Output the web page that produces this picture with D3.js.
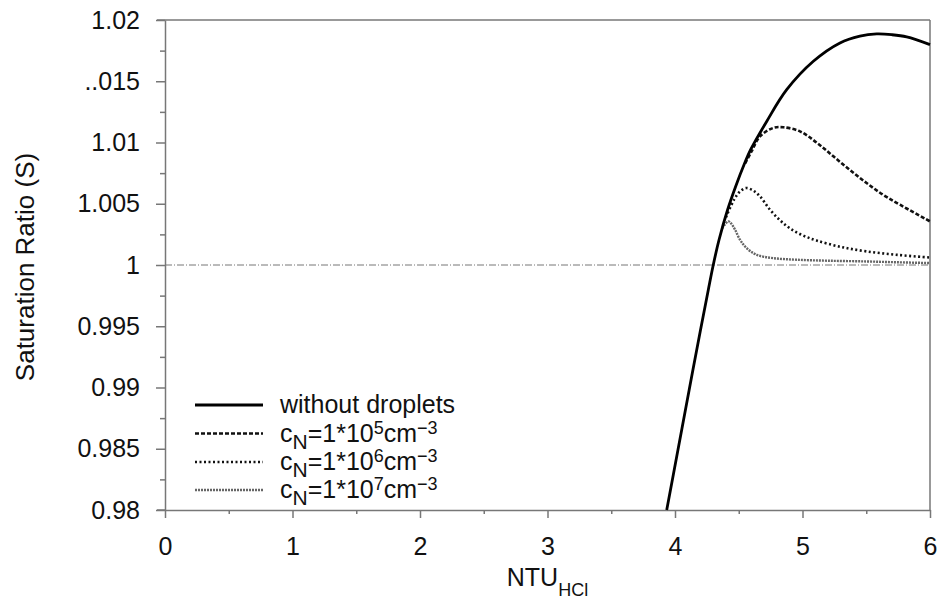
<!DOCTYPE html>
<meta charset="utf-8">
<style>
body { margin: 0; background: #fff; }
text { font-family: "Liberation Sans", Arial, sans-serif; fill: #111; }
</style>
<script src="https://d3js.org/d3.v7.min.js"></script>
<div id="chart"></div>
<script>
// data (NTU_HCI vs saturation ratio)
var ntuSolid = [3.935, 4.023, 4.111, 4.2, 4.261, 4.30, 4.345, 4.412, 4.475, 4.546, 4.592, 4.719, 4.876, 5.085, 5.294, 5.45, 5.582, 5.7, 5.817, 6.0];
var sSolid   = [0.98, 0.9849, 0.9898, 0.99469, 0.99796, 1.0, 1.00204, 1.00449, 1.00639, 1.0083, 1.00939, 1.01172, 1.01431, 1.01663, 1.01813, 1.01868, 1.01886, 1.0188, 1.01862, 1.01799];

var ntu1e5 = [4.55, 4.60, 4.667, 4.771, 4.85, 4.98, 5.11, 5.242, 5.373, 5.503, 5.634, 5.765, 6.0];
var s1e5   = [1.0083, 1.00927, 1.0105, 1.01119, 1.01124, 1.01091, 1.0100, 1.00887, 1.00775, 1.00669, 1.00572, 1.00492, 1.00356];

var ntu1e6 = [4.40, 4.463, 4.51, 4.557, 4.61, 4.667, 4.745, 4.824, 4.90, 5.0, 5.11, 5.30, 5.503, 5.75, 6.0];
var s1e6   = [1.0039, 1.00533, 1.0060, 1.00628, 1.0061, 1.0056, 1.00451, 1.00365, 1.00300, 1.00243, 1.00200, 1.00148, 1.00111, 1.00082, 1.00061];

var ntu1e7 = [4.37, 4.418, 4.44, 4.471, 4.51, 4.562, 4.641, 4.771, 4.954, 5.2, 5.503, 5.75, 6.0];
var s1e7   = [1.0030, 1.00356, 1.0034, 1.00288, 1.00206, 1.00138, 1.00083, 1.00056, 1.00043, 1.00035, 1.00029, 1.00022, 1.00016];

var yTicks = [0.98, 0.985, 0.99, 0.995, 1, 1.005, 1.01, 1.015, 1.02];
var yTickLabels = ["0.98", "0.985", "0.99", "0.995", "1", "1.005", "1.01", "..015", "1.02"];
var xTicks = [0, 1, 2, 3, 4, 5, 6];

var W = 940, H = 602;
var margin = {top: 20, right: 10, bottom: 92, left: 165};
var width = 930 - margin.left, height = 510 - margin.top;

var svg = d3.select("#chart").append("svg")
    .attr("width", W).attr("height", H)
  .append("g")
    .attr("transform", "translate(" + margin.left + "," + margin.top + ")");

var x = d3.scaleLinear().domain([0, 6]).range([0, width]);
var y = d3.scaleLinear().domain([0.98, 1.02]).range([height, 0]);

var axisColor = "#777";

// frame: top and right edges
svg.append("line").attr("x1", -8).attr("x2", width).attr("y1", 0).attr("y2", 0)
  .attr("stroke", axisColor).attr("stroke-width", 1.5);
svg.append("line").attr("x1", width).attr("x2", width).attr("y1", 0).attr("y2", height)
  .attr("stroke", axisColor).attr("stroke-width", 1.5);

// x axis
svg.append("g").attr("transform", "translate(0," + height + ")")
  .call(d3.axisBottom(x).tickValues(xTicks).tickSize(8).tickPadding(19).tickSizeOuter(0).tickFormat(d3.format("d")));
svg.append("g").attr("transform", "translate(0," + height + ")")
  .call(d3.axisBottom(x).tickValues(d3.range(0.5, 6, 1)).tickSize(4).tickFormat("").tickSizeOuter(0))
  .select(".domain").remove();

// y axis
svg.append("g")
  .call(d3.axisLeft(y).tickValues(yTicks).tickSize(9).tickPadding(16).tickSizeOuter(0)
    .tickFormat(function(d, i) { return yTickLabels[i]; }));
svg.append("g")
  .call(d3.axisLeft(y).tickValues(d3.range(0.9825, 1.02, 0.005)).tickSize(5).tickFormat("").tickSizeOuter(0))
  .select(".domain").remove();

svg.selectAll(".domain").attr("stroke", axisColor).attr("stroke-width", 1.5);
svg.selectAll(".tick line").attr("stroke", axisColor).attr("stroke-width", 1.5);
svg.selectAll(".tick text").style("font-size", "25px").attr("fill", "#111")
  .style("font-family", "'Liberation Sans', Arial, sans-serif");
// extend the x axis line left to meet the y ticks
svg.append("line").attr("x1", -8).attr("x2", 0).attr("y1", height).attr("y2", height)
  .attr("stroke", axisColor).attr("stroke-width", 1.5);

// reference line S = 1
svg.append("line").attr("x1", 0).attr("x2", width).attr("y1", y(1)).attr("y2", y(1))
  .attr("stroke", "#777").attr("stroke-width", 1).attr("stroke-dasharray", "7,2,1,2");

// series
var series = [
  {nx: ntuSolid, ny: sSolid, color: "#000", w: 2.8, dash: null, label: "without droplets"},
  {nx: ntu1e5, ny: s1e5, color: "#111", w: 2.6, dash: "4,2", exp: "5"},
  {nx: ntu1e6, ny: s1e6, color: "#111", w: 2.6, dash: "2,2.5", exp: "6"},
  {nx: ntu1e7, ny: s1e7, color: "#666", w: 2.4, dash: "2,1", exp: "7"}
];

var line = d3.line()
  .x(function(d) { return x(d[0]); })
  .y(function(d) { return y(d[1]); })
  .curve(d3.curveCatmullRom.alpha(0.5));

series.slice().reverse().forEach(function(s) {
  var pts = s.nx.map(function(v, i) { return [v, s.ny[i]]; });
  svg.append("path").datum(pts)
    .attr("d", line)
    .attr("fill", "none")
    .attr("stroke", s.color)
    .attr("stroke-width", s.w)
    .attr("stroke-dasharray", s.dash);
});

// legend
var legY = [405, 433.5, 462, 490];
series.forEach(function(s, i) {
  var ly = legY[i] - margin.top;
  svg.append("line").attr("x1", 195 - margin.left).attr("x2", 263 - margin.left)
    .attr("y1", ly).attr("y2", ly)
    .attr("stroke", s.color).attr("stroke-width", s.w).attr("stroke-dasharray", s.dash);
  var t = svg.append("text").attr("x", 280 - margin.left).attr("y", ly + 8).style("font-size", "25px");
  if (s.label) {
    t.text(s.label);
  } else {
    t.append("tspan").text("c");
    t.append("tspan").attr("dy", 7).style("font-size", "21px").text("N");
    t.append("tspan").attr("dy", -7).text("=1*10");
    t.append("tspan").attr("dy", -8).style("font-size", "18px").text(s.exp);
    t.append("tspan").attr("dy", 8).text("cm");
    t.append("tspan").attr("dy", -8).style("font-size", "18px").text("\u22123");
  }
});

// axis titles
var xl = svg.append("text").attr("x", width / 2).attr("y", 586 - margin.top)
  .attr("text-anchor", "middle").style("font-size", "25px");
xl.append("tspan").text("NTU");
xl.append("tspan").attr("dy", 10).style("font-size", "18px").text("HCl");

svg.append("text")
  .attr("transform", "translate(" + (34 - margin.left) + "," + (267 - margin.top) + ") rotate(-90)")
  .attr("text-anchor", "middle").style("font-size", "26px")
  .text("Saturation Ratio (S)");
</script>
